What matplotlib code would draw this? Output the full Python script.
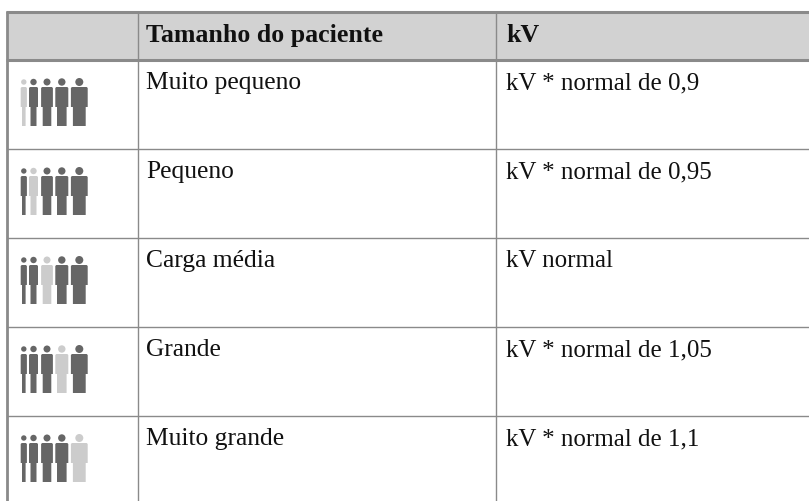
import matplotlib
matplotlib.use("Agg")
import matplotlib.pyplot as plt
from matplotlib.patches import Polygon, Circle, Rectangle

sizes = ["Muito pequeno", "Pequeno", "Carga média", "Grande", "Muito grande"]
kv = ["kV * normal de 0,9", "kV * normal de 0,95", "kV normal",
      "kV * normal de 1,05", "kV * normal de 1,1"]
headers = ["Tamanho do paciente", "kV"]
highlight = [0, 1, 2, 3, 4]

W, H = 809, 501
fig = plt.figure(figsize=(W / 100, H / 100), dpi=100)
ax = fig.add_axes([0, 0, 1, 1])
ax.set_xlim(0, W)
ax.set_ylim(H, 0)
ax.axis("off")

FONT = "Liberation Serif"
FS = 18.4
FS_KV = 18.0
FS_HEAD = 18.6
EDGE = "#8a8a8a"
TEXT = "#111111"
ROW0, ROWH = 60, 89

ax.add_patch(Rectangle((7, 12), 802, 47, fc="#d2d2d2", ec="none", zorder=0))
ax.plot([6, 809], [12, 12], color=EDGE, lw=2.2, solid_capstyle="butt", zorder=2)
ax.plot([6, 809], [60, 60], color=EDGE, lw=2.2, solid_capstyle="butt", zorder=2)
ax.plot([7, 7], [11, 501], color=EDGE, lw=2.0, solid_capstyle="butt", zorder=2)
for x in (138, 496.5):
    ax.plot([x, x], [12, 501], color=EDGE, lw=1.0, solid_capstyle="butt", zorder=2)
for i in range(1, 5):
    y = ROW0 + ROWH * i
    ax.plot([7, 809], [y, y], color=EDGE, lw=1.0, solid_capstyle="butt", zorder=2)

ax.text(146.5, 41.7, headers[0], family=FONT, fontsize=FS_HEAD, weight="bold", va="baseline", color=TEXT)
ax.text(506, 41.7, headers[1], family=FONT, fontsize=FS_HEAD, weight="bold", va="baseline", color=TEXT)

cx = [23.8, 33.5, 47.0, 61.8, 79.3]
half = [3.1, 4.5, 5.9, 6.5, 8.4]
leg = [1.8, 3.0, 4.3, 4.8, 6.4]
head = [2.7, 3.2, 3.5, 3.7, 4.0]
DARK, LIGHT = "#666666", "#cccccc"


def person(x, hw, lw, r, top, color):
    pts = [(x - hw + 1, top + 27), (x - hw, top + 28), (x - hw, top + 47),
           (x - lw, top + 47), (x - lw, top + 66), (x + lw, top + 66),
           (x + lw, top + 47), (x + hw, top + 47), (x + hw, top + 28),
           (x + hw - 1, top + 27)]
    ax.add_patch(Polygon(pts, closed=True, fc=color, ec="none", zorder=3))
    ax.add_patch(Circle((x, top + 22), r, fc=color, ec="none", zorder=3))


for i, (s, k, h) in enumerate(zip(sizes, kv, highlight)):
    top = ROW0 + ROWH * i
    ax.text(146.5, top + 29.3, s, family=FONT, fontsize=FS, va="baseline", color=TEXT)
    ax.text(506, top + 29.3, k, family=FONT, fontsize=FS_KV, va="baseline", color=TEXT)
    for j in range(5):
        person(cx[j], half[j], leg[j], head[j], top, LIGHT if j == h else DARK)

fig.savefig("out.png", dpi=100, facecolor="white")
